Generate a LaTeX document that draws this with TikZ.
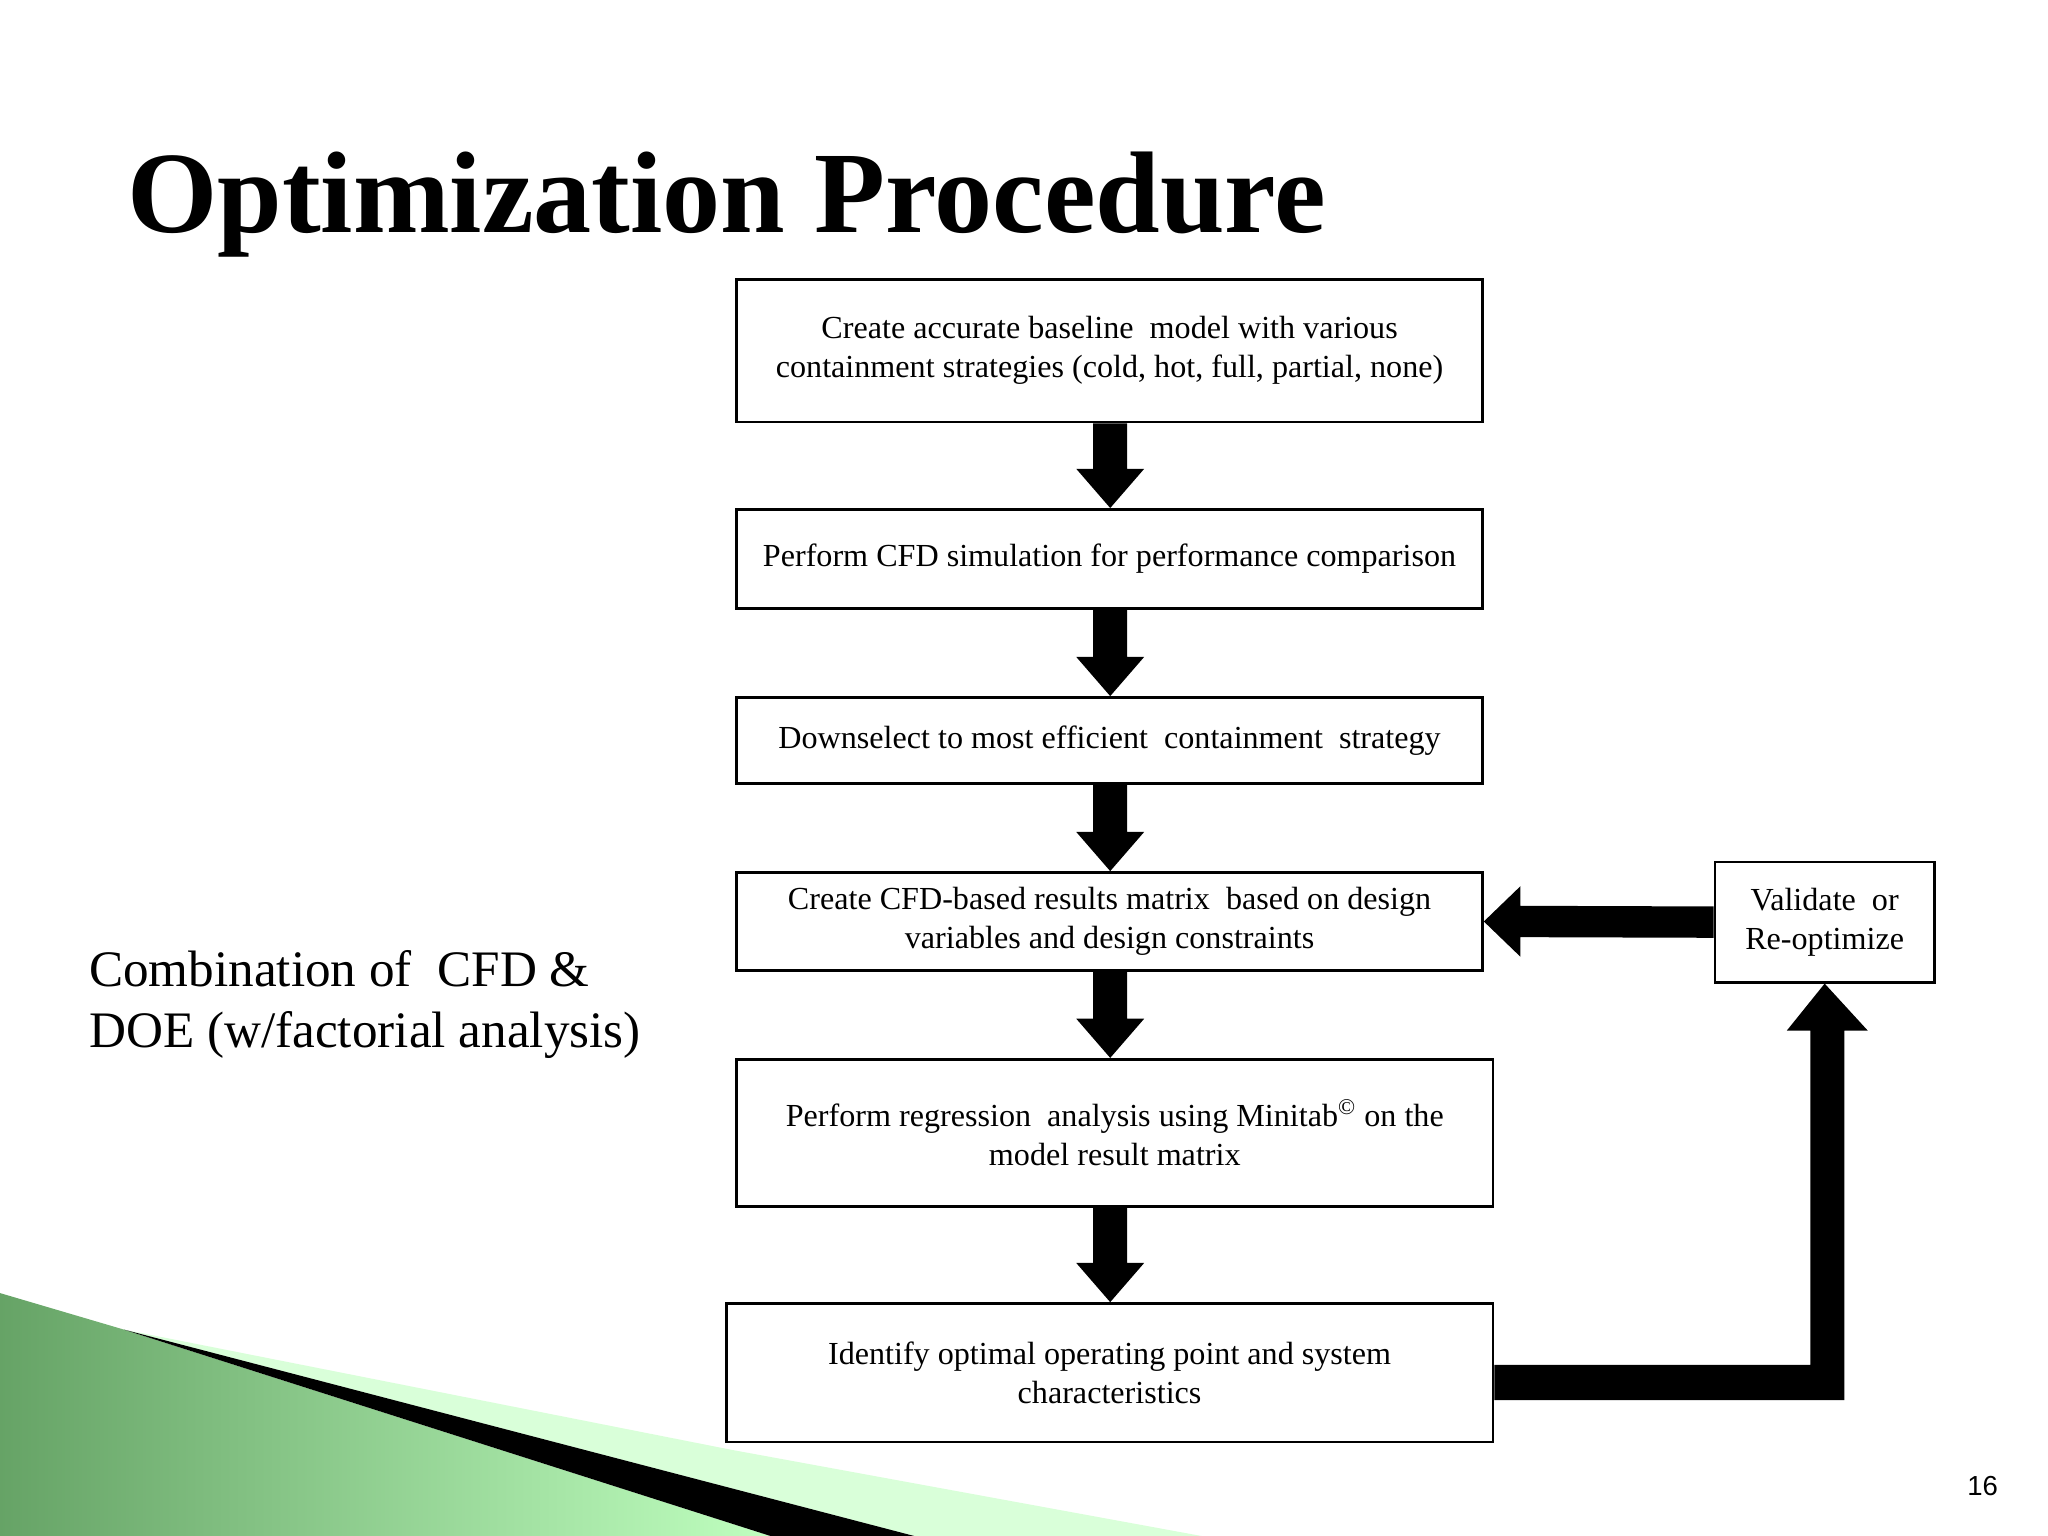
\documentclass[tikz,border=0pt]{standalone}
\usepackage{fontspec}
\setmainfont{Liberation Serif}
\newfontfamily\sans{Liberation Sans}
\usetikzlibrary{calc}
\newcommand\vblock[2]{\fill ($(ax |- #1.south)+(-13,0)$) -- ($(ax |- #2.north)+(-13,-30)$) -- ($(ax |- #2.north)+(-26,-30)$) -- (ax |- #2.north) -- ($(ax |- #2.north)+(26,-30)$) -- ($(ax |- #2.north)+(13,-30)$) -- ($(ax |- #1.south)+(13,0)$) -- cycle;}
\begin{document}
\begin{tikzpicture}[x=0.02cm,y=-0.02cm,
  box/.style={draw,line width=1.2pt,inner sep=0pt,align=center,font=\fontsize{14}{17}\selectfont}]
\useasboundingbox (0,0) rectangle (1568,1176);
\fill[white] (0,0) rectangle (1568,1176);
\coordinate (ax) at (850,0);
% decoration
\shade[left color=green!40!black!60, right color=green!25!white] (0,990) -- (95,1018) -- (590,1176) -- (0,1176) -- cycle;
\fill[green!15!white] (95,1018) -- (560,1110) -- (920,1176) -- (700,1176) -- cycle;
\fill[black] (95,1018) -- (700,1176) -- (590,1176) -- cycle;
\node[font=\bfseries\fontsize{50.6}{60}\selectfont,anchor=base west,inner sep=0] (title) at (97,178) {Optimization Procedure};
\node[font=\fontsize{22.3}{26.6}\selectfont,align=left,anchor=north west,inner sep=0] (side) at (68,727) {Combination of \ CFD \&\\DOE (w/factorial analysis)};
\node[font=\sans\fontsize{12}{14}\selectfont,anchor=base east,inner sep=0] (pg) at (1530,1145) {16};
\node[box,minimum width=571*0.02cm,minimum height=109*0.02cm] (b1) at (849.5,268.5) {Create accurate baseline \ model with various\\containment strategies (cold, hot, full, partial, none)};
\node[box,minimum width=571*0.02cm,minimum height=76*0.02cm] (b2) at (849.5,428) {Perform CFD simulation for performance comparison};
\node[box,minimum width=571*0.02cm,minimum height=66*0.02cm] (b3) at (849.5,567) {Downselect to most efficient \ containment \ strategy};
\node[box,minimum width=571*0.02cm,minimum height=75*0.02cm] (b4) at (849.5,705.5) {Create CFD-based results matrix \ based on design\\variables and design constraints};
\node[box,minimum width=579*0.02cm,minimum height=113*0.02cm] (b5) at (853.5,867.5) {Perform regression \ analysis using Minitab\textsuperscript{\copyright} on the\\model result matrix};
\node[box,minimum width=587*0.02cm,minimum height=106*0.02cm] (b6) at (849.5,1051) {Identify optimal operating point and system\\characteristics};
\node[box,minimum width=168*0.02cm,minimum height=92*0.02cm] (v) at (1397,706) {Validate \ or\\Re-optimize};
\vblock{b1}{b2}
\vblock{b2}{b3}
\vblock{b3}{b4}
\vblock{b4}{b5}
\vblock{b5}{b6}
% horizontal arrow V -> b4
\fill ($(v.west)+(0,-12)$) -- ($(b4.east)+(28,-12)$) -- ($(b4.east)+(28,-27)$) -- (b4.east) -- ($(b4.east)+(28,27)$) -- ($(b4.east)+(28,12)$) -- ($(v.west)+(0,12)$) -- cycle;
% return arrow b6 -> V
\coordinate (c) at (1412,1072);
\fill ($(b6.east)+(0,-6)$) -- (1386,1045) -- ($(v.south)+(-11,36)$) -- ($(v.south)+(-29,36)$) -- (v.south) -- ($(v.south)+(33,36)$) -- ($(v.south)+(15,36)$) -- (c) -- ($(b6.east)+(0,21)$) -- cycle;
\end{tikzpicture}
\end{document}
